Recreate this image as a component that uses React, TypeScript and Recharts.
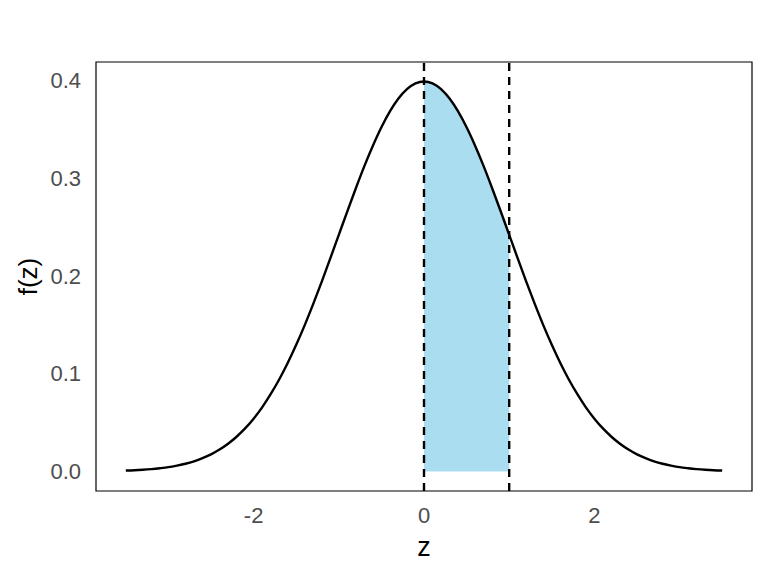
import { Area, ComposedChart, Line, ReferenceArea, ReferenceLine, XAxis, YAxis } from 'recharts'

// z grid and density
const zValues = [
  -3.5, -3.4, -3.3, -3.2, -3.1, -3.0, -2.9, -2.8, -2.7, -2.6, -2.5, -2.4, -2.3, -2.2, -2.1, -2.0,
  -1.9, -1.8, -1.7, -1.6, -1.5, -1.4, -1.3, -1.2, -1.1, -1.0, -0.9, -0.8, -0.7, -0.6, -0.5, -0.4,
  -0.3, -0.2, -0.1, 0.0, 0.1, 0.2, 0.3, 0.4, 0.5, 0.6, 0.7, 0.8, 0.9, 1.0, 1.1, 1.2, 1.3, 1.4, 1.5,
  1.6, 1.7, 1.8, 1.9, 2.0, 2.1, 2.2, 2.3, 2.4, 2.5, 2.6, 2.7, 2.8, 2.9, 3.0, 3.1, 3.2, 3.3, 3.4, 3.5,
]
const density = [
  0.0009, 0.0012, 0.0017, 0.0024, 0.0033, 0.0044, 0.006, 0.0079, 0.0104, 0.0136, 0.0175, 0.0224,
  0.0283, 0.0355, 0.044, 0.054, 0.0656, 0.079, 0.094, 0.1109, 0.1295, 0.1497, 0.1714, 0.1942,
  0.2179, 0.242, 0.2661, 0.2897, 0.3123, 0.3332, 0.3521, 0.3683, 0.3814, 0.391, 0.397, 0.3989,
  0.397, 0.391, 0.3814, 0.3683, 0.3521, 0.3332, 0.3123, 0.2897, 0.2661, 0.242, 0.2179, 0.1942,
  0.1714, 0.1497, 0.1295, 0.1109, 0.094, 0.079, 0.0656, 0.054, 0.044, 0.0355, 0.0283, 0.0224,
  0.0175, 0.0136, 0.0104, 0.0079, 0.006, 0.0044, 0.0033, 0.0024, 0.0017, 0.0012, 0.0009,
]

// shaded region between the two dashed lines
const shadeZ = [0.0, 0.1, 0.2, 0.3, 0.4, 0.5, 0.6, 0.7, 0.8, 0.9, 1.0]
const shadeDensity = [0.3989, 0.397, 0.391, 0.3814, 0.3683, 0.3521, 0.3332, 0.3123, 0.2897, 0.2661, 0.242]

const cutoffs = [0, 1]
const xTicks = [-2, 0, 2]
const yTicks = [0, 0.1, 0.2, 0.3, 0.4]
const xDomain = [-3.85, 3.85]
const yDomain = [-0.02, 0.4188]

const curve = zValues.map((z, i) => ({ z, f: density[i] }))
const shade = shadeZ.map((z, i) => ({ z, f: shadeDensity[i] }))

const FONT = '"Liberation Sans", Arial, sans-serif'
const tickStyle = { fontSize: 22, fill: '#4D4D4D', fontFamily: FONT }

export default function App() {
  return (
    <div style={{ position: 'absolute', left: 0, top: 0, background: '#fff' }}>
      <ComposedChart width={768} height={576} margin={{ top: 62, right: 16, bottom: 0, left: 0 }}>
        <XAxis
          type="number"
          dataKey="z"
          domain={xDomain}
          ticks={xTicks}
          allowDataOverflow
          axisLine={false}
          tickLine={false}
          tickSize={0}
          tickMargin={16}
          height={85}
          tick={tickStyle}
          label={{ value: 'z', position: 'insideBottom', offset: 20, fontSize: 27, fill: '#000', fontFamily: FONT }}
        />
        <YAxis
          type="number"
          domain={yDomain}
          ticks={yTicks}
          allowDataOverflow
          axisLine={false}
          tickLine={false}
          tickSize={0}
          tickMargin={15}
          width={96}
          tick={tickStyle}
          tickFormatter={(v: number) => v.toFixed(1)}
          label={{
            content: ({ viewBox }: any) => {
              const cy = viewBox.y + viewBox.height / 2
              return (
                <text
                  x={37}
                  y={cy}
                  transform={`rotate(-90, 37, ${cy})`}
                  textAnchor="middle"
                  fontSize={26}
                  fill="#000"
                  fontFamily={FONT}
                >
                  f(z)
                </text>
              )
            },
          }}
        />
        <Area
          data={shade}
          dataKey="f"
          type="monotone"
          baseValue={0}
          stroke="none"
          fill="#ABDDF1"
          fillOpacity={1}
          isAnimationActive={false}
        />
        <Line
          data={curve}
          dataKey="f"
          type="monotone"
          stroke="#000"
          strokeWidth={2.4}
          dot={false}
          activeDot={false}
          isAnimationActive={false}
        />
        {cutoffs.map((c) => (
          <ReferenceLine key={c} x={c} stroke="#000" strokeWidth={2.4} strokeDasharray="8 6" />
        ))}
        <ReferenceArea
          x1={xDomain[0]}
          x2={xDomain[1]}
          y1={yDomain[0]}
          y2={yDomain[1]}
          fill="none"
          stroke="#000"
          strokeWidth={1.2}
        />
      </ComposedChart>
    </div>
  )
}
